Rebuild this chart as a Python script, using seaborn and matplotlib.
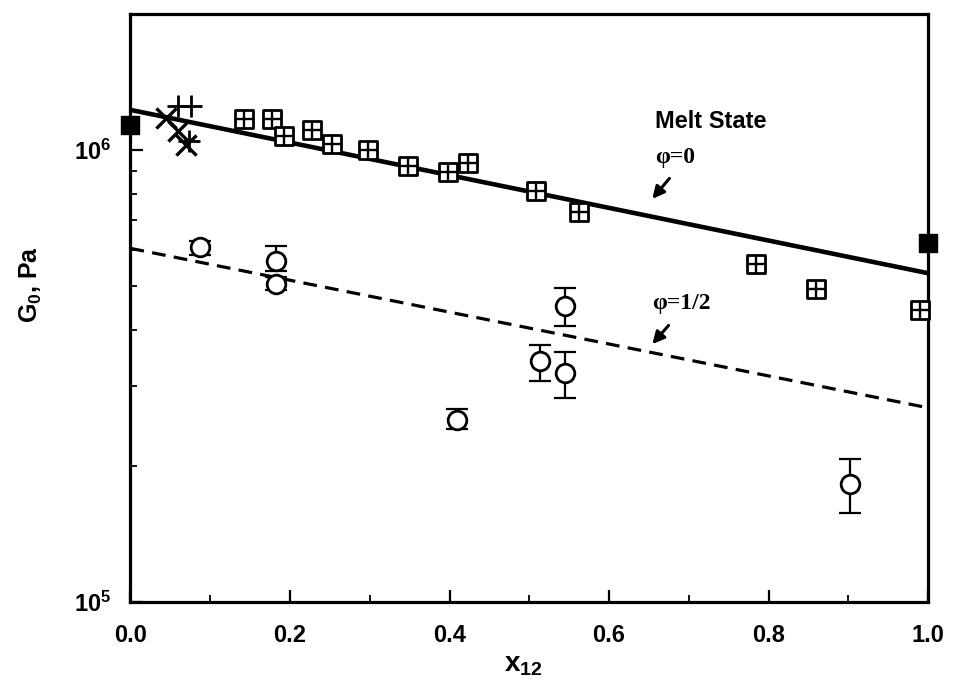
import matplotlib
matplotlib.use("Agg")
import matplotlib.pyplot as plt
import seaborn as sns
import pandas as pd
from matplotlib.ticker import FixedLocator, MultipleLocator, LogLocator, NullFormatter

# ---------------- data ----------------
line_x = [0.0, 1.0]
melt_g0 = [1.227e6, 5.34e5]      # phi = 0 (solid)
half_g0 = [6.06e5, 2.69e5]       # phi = 1/2 (dashed)

pure_x = [0.0, 1.0]
pure_g0 = [1.138e6, 6.22e5]

box_x = [0.142, 0.177, 0.193, 0.228, 0.253, 0.298, 0.348, 0.398, 0.423,
         0.508, 0.563, 0.784, 0.860, 0.990]
box_g0 = [1.171e6, 1.171e6, 1.076e6, 1.107e6, 1.031e6, 1.002e6, 9.23e5,
          8.92e5, 9.36e5, 8.12e5, 7.31e5, 5.61e5, 4.92e5, 4.42e5]

cross_x = [0.0445, 0.0596, 0.0696]
cross_g0 = [1.177e6, 1.102e6, 1.026e6]
plus_x = [0.0596, 0.0759, 0.0734]
plus_g0 = [1.252e6, 1.252e6, 1.047e6]

circ_x = [0.087, 0.182, 0.182, 0.409, 0.5135, 0.545, 0.545, 0.902]
circ_g0 = [6.09e5, 5.68e5, 5.05e5, 2.53e5, 3.41e5, 4.52e5, 3.21e5, 1.82e5]
circ_lo = [5.85e5, 5.39e5, 4.89e5, 2.41e5, 3.08e5, 4.07e5, 2.83e5, 1.57e5]
circ_hi = [6.29e5, 6.12e5, 5.23e5, 2.67e5, 3.70e5, 4.94e5, 3.58e5, 2.07e5]

x_ticks = [0.0, 0.2, 0.4, 0.6, 0.8, 1.0]
x_ticklabels = ["0.0", "0.2", "0.4", "0.6", "0.8", "1.0"]
y_ticks = [1e5, 1e6]
y_ticklabels = [r"$\mathbf{10^{5}}$", r"$\mathbf{10^{6}}$"]

# ---------------- style ----------------
sns.set_theme(style="ticks")
plt.rcParams["font.family"] = ["Liberation Sans", "DejaVu Sans"]
plt.rcParams["mathtext.fontset"] = "custom"
plt.rcParams["mathtext.rm"] = "Liberation Sans:bold"
plt.rcParams["mathtext.bf"] = "Liberation Sans:bold"
plt.rcParams["mathtext.it"] = "Liberation Sans:bold"
plt.rcParams["axes.labelcolor"] = "black"
plt.rcParams["text.color"] = "black"

fig = plt.figure(figsize=(9.54, 6.88), dpi=100)
ax = fig.add_axes([130.5 / 954, 1 - 602 / 688, 797.5 / 954, 588 / 688])
ax.set_yscale("log")
ax.set_xlim(0, 1.0)
ax.set_ylim(1e5, 2e6)

# lines
sns.lineplot(x=line_x, y=melt_g0, ax=ax, color="black", lw=3.3, zorder=2)
sns.lineplot(x=line_x, y=half_g0, ax=ax, color="black", lw=2.3,
             linestyle=(0, (4.3, 2.6)), zorder=2)

# error bars
yerr = [[g - lo for g, lo in zip(circ_g0, circ_lo)],
        [hi - g for g, hi in zip(circ_g0, circ_hi)]]
ax.errorbar(circ_x, circ_g0, yerr=yerr, fmt="none", ecolor="black",
            elinewidth=1.6, capsize=8, capthick=1.6, zorder=3)

# markers
sns.scatterplot(x=circ_x, y=circ_g0, ax=ax, marker="o", s=180, color="white",
                edgecolor="black", linewidth=2.0, zorder=4)
sns.scatterplot(x=box_x, y=box_g0, ax=ax, marker="s", s=150, color="white",
                edgecolor="black", linewidth=2.0, zorder=5, clip_on=False)
sns.scatterplot(x=box_x, y=box_g0, ax=ax, marker="+", s=150, color="black",
                linewidth=1.7, zorder=6, clip_on=False)
sns.scatterplot(x=cross_x, y=cross_g0, ax=ax, marker="x", s=210, color="black",
                linewidth=2.4, zorder=5)
sns.scatterplot(x=plus_x, y=plus_g0, ax=ax, marker="+", s=260, color="black",
                linewidth=2.0, zorder=5)
sns.scatterplot(x=pure_x, y=pure_g0, ax=ax, marker="s", s=180, color="black",
                edgecolor="black", linewidth=1, zorder=7, clip_on=False)

# ticks
ax.xaxis.set_major_locator(FixedLocator(x_ticks))
ax.set_xticklabels(x_ticklabels)
ax.xaxis.set_minor_locator(MultipleLocator(0.1))
ax.yaxis.set_major_locator(FixedLocator(y_ticks))
ax.set_yticklabels(y_ticklabels)
ax.yaxis.set_minor_locator(LogLocator(base=10, subs=range(2, 10)))
ax.yaxis.set_minor_formatter(NullFormatter())
ax.tick_params(axis="both", which="major", direction="in", length=9, width=1.6,
               labelsize=17, colors="black")
ax.tick_params(axis="x", which="major", pad=16)
ax.tick_params(axis="y", which="major", pad=14)
ax.tick_params(axis="both", which="minor", direction="in", length=5, width=1.3,
               colors="black")
for lab in ax.get_xticklabels():
    lab.set_fontweight("bold")

for sp in ax.spines.values():
    sp.set_linewidth(2.3)
    sp.set_color("black")
ax.grid(False)

# labels
ax.set_xlabel(r"$\mathbf{x_{12}}$", fontsize=20, color="black")
ax.xaxis.set_label_coords(0.492, -0.085)
ax.set_ylabel(r"$\mathbf{G_{0}}$, Pa", fontsize=18, fontweight="bold", color="black")
ax.yaxis.set_label_coords(-0.108, 0.54)

# annotations
ax.text(0.658, 0.818, "Melt State", transform=ax.transAxes, fontsize=17,
        fontweight="bold", ha="left", va="center", color="black")
ax.text(0.658, 0.756, "φ=0", transform=ax.transAxes, fontsize=17, fontweight="bold",
        family=["Liberation Serif", "DejaVu Serif"], ha="left", va="center")
ax.text(0.654, 0.5085, "φ=1/2", transform=ax.transAxes, fontsize=17, fontweight="bold",
        family=["Liberation Serif", "DejaVu Serif"], ha="left", va="center")
arrow = dict(arrowstyle="-|>,head_length=0.6,head_width=0.3", color="black", lw=2.2)
ax.annotate("", xy=(0.652, 0.682), xytext=(0.678, 0.724),
            xycoords="axes fraction", textcoords="axes fraction", arrowprops=arrow)
ax.annotate("", xy=(0.652, 0.435), xytext=(0.677, 0.474),
            xycoords="axes fraction", textcoords="axes fraction", arrowprops=arrow)

fig.savefig("out.png", dpi=100)
